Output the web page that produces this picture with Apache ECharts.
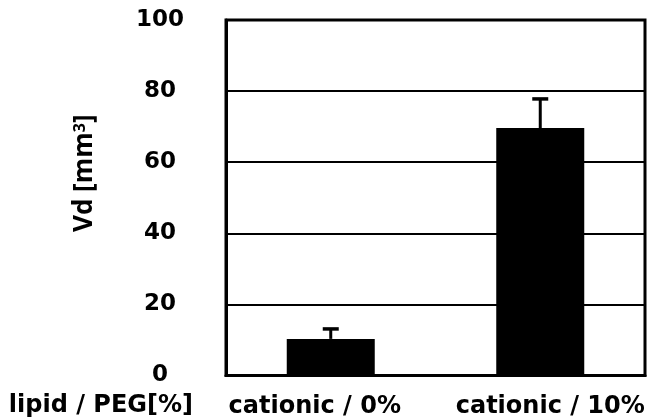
<!DOCTYPE html>
<html><head><meta charset="utf-8">
<script src="https://cdn.jsdelivr.net/npm/echarts@6/dist/echarts.min.js"></script>
<style>html,body{margin:0;padding:0;background:#fff}#c{width:647px;height:419px}</style>
</head><body><div id="c"></div>
<script>
var categories = ['cationic / 0%', 'cationic / 10%'];
var values = [10.3, 69.6];
var errors = [2.8, 8.2];
var yTicks = [0, 20, 40, 60, 80, 100];
var rowHeader = 'lipid / PEG[%]';

var chart = echarts.init(document.getElementById('c'));
var errData = values.map(function (v, i) { return [i, v, v + errors[i]]; });

chart.setOption({
  animation: false,
  grid: { left: 226, right: 2, top: 20, bottom: 43.5, show: true, borderColor: '#000', borderWidth: 3, containLabel: false, outerBoundsMode: 'none' },
  xAxis: {
    type: 'category', data: categories,
    axisLine: { lineStyle: { color: '#000', width: 3 } },
    axisTick: { show: false },
    axisLabel: {
      margin: 19, color: '#000',
      formatter: function (v, i) { return i === 0 ? '{a|' + v + '}' : '{b|' + v + '}'; },
      rich: {
        a: { fontFamily: 'DejaVu Sans', fontWeight: 'bold', fontSize: 24, color: '#000', padding: [0, 32, 0, 0] },
        b: { fontFamily: 'DejaVu Sans', fontWeight: 'bold', fontSize: 24, color: '#000', padding: [0, 0, 0, 20] }
      }
    }
  },
  yAxis: {
    type: 'value', min: 0, max: 100, interval: 20,
    axisLine: { show: true, lineStyle: { color: '#000', width: 3 } },
    axisTick: { show: false },
    splitLine: { lineStyle: { color: '#000', width: 2 } },
    axisLabel: {
      margin: 66, align: 'center', color: '#000',
      fontFamily: 'DejaVu Sans', fontWeight: 'bold', fontSize: 23,
      formatter: function (v) { return yTicks.indexOf(v) >= 0 ? String(v) : ''; }
    },
    name: '{n|Vd [mm}{s|3}{n|]}', nameLocation: 'middle', nameGap: 128, nameRotate: 90,
    nameTextStyle: {
      padding: [0, 0, 0, 49],
      rich: {
        n: { fontFamily: 'Open Sans', fontWeight: 'bold', fontSize: 26, color: '#000' },
        s: { fontFamily: 'Open Sans', fontWeight: 'bold', fontSize: 16, color: '#000', verticalAlign: 'top', padding: [0, 0, 10, 0] }
      }
    }
  },
  graphic: [{
    type: 'text', right: 647 - 193, top: 394,
    style: { text: rowHeader, fontFamily: 'DejaVu Sans', fontWeight: 'bold', fontSize: 24, fill: '#000' }
  }],
  series: [
    { type: 'bar', data: values, barWidth: 88, itemStyle: { color: '#000' }, z: 2 },
    {
      type: 'custom', data: errData, z: 3,
      renderItem: function (params, api) {
        var i = api.value(0);
        var p0 = api.coord([i, api.value(1)]);
        var p1 = api.coord([i, api.value(2)]);
        var cap = 8;
        return {
          type: 'group',
          children: [
            { type: 'line', shape: { x1: p0[0], y1: p0[1], x2: p1[0], y2: p1[1] }, style: { stroke: '#000', lineWidth: 3 } },
            { type: 'line', shape: { x1: p1[0] - cap, y1: p1[1], x2: p1[0] + cap, y2: p1[1] }, style: { stroke: '#000', lineWidth: 3.5 } }
          ]
        };
      }
    }
  ]
});
</script></body></html>
